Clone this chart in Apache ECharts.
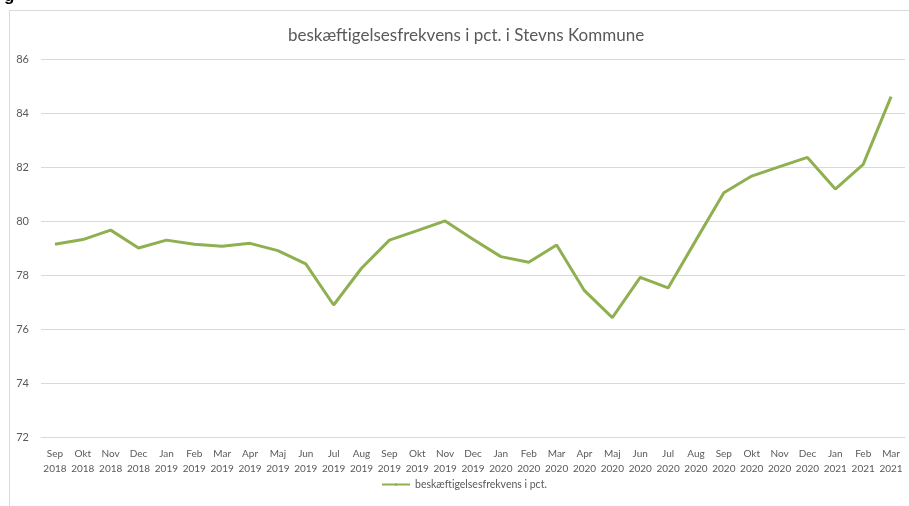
<!DOCTYPE html>
<html>
<head>
<meta charset="utf-8">
<script src="https://cdn.jsdelivr.net/npm/echarts@6/dist/echarts.min.js"></script>
<style>
html, body { margin: 0; padding: 0; background: #fff; }
#chart { width: 909px; height: 506px; }
</style>
</head>
<body>
<div id="chart"></div>
<script>
// maaneder (x-akse)
var months = ['Sep', 'Okt', 'Nov', 'Dec', 'Jan', 'Feb', 'Mar', 'Apr', 'Maj', 'Jun', 'Jul', 'Aug',
	'Sep', 'Okt', 'Nov', 'Dec', 'Jan', 'Feb', 'Mar', 'Apr', 'Maj', 'Jun', 'Jul', 'Aug',
	'Sep', 'Okt', 'Nov', 'Dec', 'Jan', 'Feb', 'Mar'];
var years = ['2018', '2018', '2018', '2018', '2019', '2019', '2019', '2019', '2019', '2019', '2019', '2019',
	'2019', '2019', '2019', '2019', '2020', '2020', '2020', '2020', '2020', '2020', '2020', '2020',
	'2020', '2020', '2020', '2020', '2021', '2021', '2021'];
// beskaeftigelsesfrekvens i pct.
var frekvens = [79.16, 79.33, 79.68, 79.02, 79.31, 79.16, 79.08, 79.19, 78.92, 78.43, 76.91, 78.27,
	79.31, 79.66, 80.02, 79.34, 78.70, 78.49, 79.13, 77.44, 76.44, 77.93, 77.54, 79.31,
	81.06, 81.68, 82.03, 82.37, 81.20, 82.11, 84.62];
var yTicks = [72, 74, 76, 78, 80, 82, 84, 86];

var seriesName = 'beskæftigelsesfrekvens i pct.';
var categories = [];
for (var i = 0; i < months.length; i++) {
	categories.push(months[i] + '\n' + years[i]);
}

var myChart = echarts.init(document.getElementById('chart'));
var option = {
	backgroundColor: '#fff',
	animation: false,
	title: {
		text: 'beskæftigelsesfrekvens i pct. i Stevns Kommune',
		left: 283,
		top: 22,
		textStyle: {
			fontFamily: 'Lato',
			fontWeight: 'normal',
			fontSize: 17,
			color: '#595959'
		}
	},
	legend: {
		bottom: 11,
		left: 376,
		itemWidth: 28,
		itemHeight: 3,
		itemGap: 2,
		textStyle: {
			fontFamily: 'Lato',
			fontSize: 10.5,
			color: '#595959'
		}
	},
	graphic: [
		{
			type: 'rect',
			shape: { x: 9.5, y: 10.5, width: 1000, height: 1000 },
			style: { fill: 'none', stroke: '#d9d9d9', lineWidth: 1 }
		},
		{
			type: 'text',
			left: 4,
			top: -12,
			style: { text: 'g', fontSize: 17, fontWeight: 'bold', fill: '#000', fontFamily: 'Liberation Sans' }
		}
	],
	grid: {
		left: 41,
		right: 4,
		top: 59.3,
		bottom: 68.3
	},
	xAxis: {
		type: 'category',
		data: categories,
		boundaryGap: true,
		axisLine: { lineStyle: { color: '#d9d9d9' } },
		axisTick: { show: false },
		axisLabel: {
			interval: 0,
			margin: 9,
			fontFamily: 'Lato',
			fontSize: 10,
			lineHeight: 15,
			color: '#595959'
		}
	},
	yAxis: {
		type: 'value',
		min: yTicks[0],
		max: yTicks[yTicks.length - 1],
		interval: 2,
		axisLine: { show: false },
		axisTick: { show: false },
		splitLine: { lineStyle: { color: '#d9d9d9' } },
		axisLabel: {
			margin: 12,
			fontFamily: 'Lato',
			fontSize: 11,
			color: '#595959'
		}
	},
	series: [
		{
			name: seriesName,
			type: 'line',
			data: frekvens,
			symbol: 'none',
			lineStyle: { color: '#8fb050', width: 3 },
			itemStyle: { color: '#8fb050' }
		}
	]
};
myChart.setOption(option);
</script>
</body>
</html>
